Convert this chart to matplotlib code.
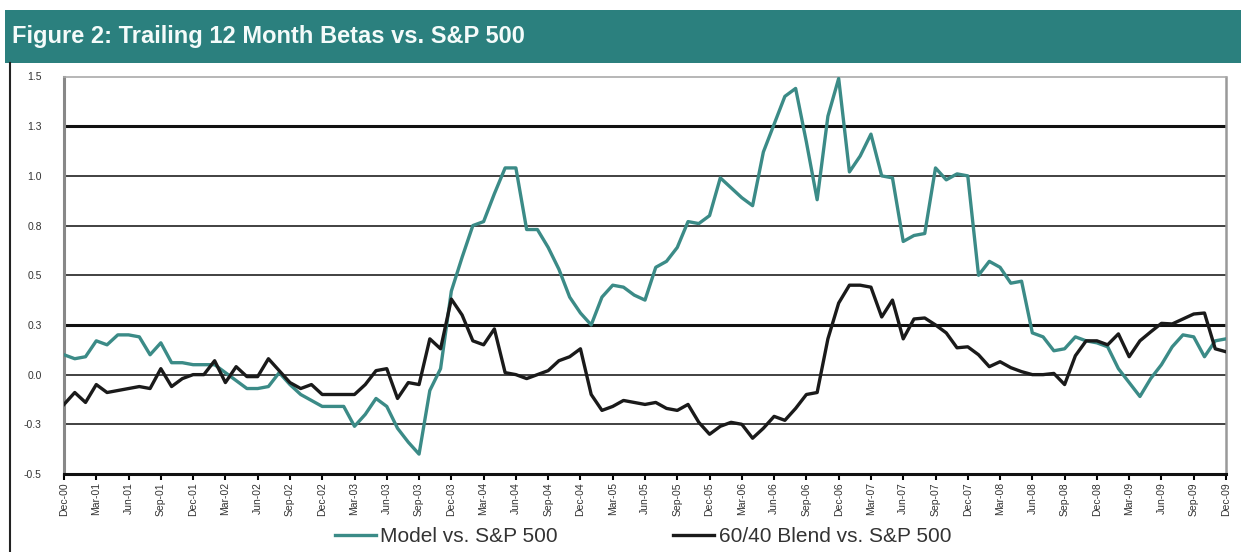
import matplotlib

matplotlib.use("Agg")

import matplotlib.pyplot as plt
import numpy as np
from matplotlib.lines import Line2D
from matplotlib.patches import Rectangle

plt.rcParams["font.family"] = ["Liberation Sans", "DejaVu Sans"]

TITLE = "Figure 2: Trailing 12 Month Betas vs. S&P 500"

# monthly trailing betas, Dec-00 .. Dec-09
model_beta = [
    0.10, 0.08, 0.09, 0.17, 0.15, 0.20, 0.20, 0.19, 0.10, 0.16,
    0.06, 0.06, 0.05, 0.05, 0.05, 0.01, -0.03, -0.07, -0.07, -0.06,
    0.01, -0.05, -0.10, -0.13, -0.16, -0.16, -0.16, -0.26, -0.20, -0.12,
    -0.16, -0.27, -0.34, -0.40, -0.08, 0.03, 0.42, 0.59, 0.75, 0.77,
    0.91, 1.04, 1.04, 0.73, 0.73, 0.64, 0.53, 0.39, 0.31, 0.25,
    0.39, 0.45, 0.44, 0.40, 0.375, 0.54, 0.57, 0.64, 0.77, 0.76,
    0.80, 0.99, 0.94, 0.89, 0.85, 1.12, 1.26, 1.40, 1.44, 1.17,
    0.88, 1.30, 1.49, 1.02, 1.10, 1.21, 1.00, 0.99, 0.67, 0.70,
    0.71, 1.04, 0.98, 1.01, 1.00, 0.50, 0.57, 0.54, 0.46, 0.47,
    0.21, 0.19, 0.12, 0.13, 0.19, 0.17, 0.16, 0.14, 0.03, -0.04,
    -0.11, -0.02, 0.05, 0.14, 0.20, 0.19, 0.09, 0.17, 0.18,
]
blend_beta = [
    -0.15, -0.09, -0.14, -0.05, -0.09, -0.08, -0.07, -0.06, -0.07, 0.03,
    -0.06, -0.02, 0.00, 0.00, 0.07, -0.04, 0.04, -0.01, -0.01, 0.08,
    0.02, -0.04, -0.07, -0.05, -0.10, -0.10, -0.10, -0.10, -0.05, 0.02,
    0.03, -0.12, -0.04, -0.05, 0.18, 0.13, 0.38, 0.30, 0.17, 0.15,
    0.23, 0.01, 0.00, -0.02, 0.00, 0.02, 0.07, 0.09, 0.13, -0.10,
    -0.18, -0.16, -0.13, -0.14, -0.15, -0.14, -0.17, -0.18, -0.15, -0.24,
    -0.30, -0.26, -0.24, -0.25, -0.32, -0.27, -0.21, -0.23, -0.17, -0.10,
    -0.09, 0.18, 0.36, 0.45, 0.45, 0.44, 0.29, 0.375, 0.18, 0.28,
    0.285, 0.25, 0.21, 0.135, 0.14, 0.10, 0.04, 0.065, 0.035, 0.015,
    0.00, 0.00, 0.006, -0.05, 0.095, 0.17, 0.17, 0.15, 0.205, 0.09,
    0.17, 0.215, 0.258, 0.255, 0.28, 0.305, 0.31, 0.13, 0.115,
]
series_names = ["Model vs. S&P 500", "60/40 Blend vs. S&P 500"]

quarter_labels = [
    "Dec-00", "Mar-01", "Jun-01", "Sep-01", "Dec-01", "Mar-02", "Jun-02",
    "Sep-02", "Dec-02", "Mar-03", "Jun-03", "Sep-03", "Dec-03", "Mar-04",
    "Jun-04", "Sep-04", "Dec-04", "Mar-05", "Jun-05", "Sep-05", "Dec-05",
    "Mar-06", "Jun-06", "Sep-06", "Dec-06", "Mar-07", "Jun-07", "Sep-07",
    "Dec-07", "Mar-08", "Jun-08", "Sep-08", "Dec-08", "Mar-09", "Jun-09",
    "Sep-09", "Dec-09",
]
y_ticks = [-0.5, -0.25, 0.0, 0.25, 0.5, 0.75, 1.0, 1.25, 1.5]
y_tick_labels = ["-0.5", "-0.3", "0.0", "0.3", "0.5", "0.8", "1.0", "1.3", "1.5"]
heavy_levels = [0.25, 1.25]

TEAL = "#2b807e"
LINE_TEAL = "#3b8b87"
W, H = 1241, 552

fig = plt.figure(figsize=(W / 100, H / 100), dpi=100)

# title banner
fig.patches.append(
    Rectangle((5 / W, 1 - 63 / H), 1, 53 / H, transform=fig.transFigure,
              facecolor=TEAL, edgecolor="none")
)
fig.text(12 / W, 1 - 36 / H, TITLE, color="#f4fbfa", fontsize=17,
         fontweight="bold", va="center", ha="left")
fig.lines.append(
    Line2D([10 / W, 10 / W], [0, 1 - 63 / H], transform=fig.transFigure,
           color="#222222", linewidth=1.5)
)

ax = fig.add_axes([64 / W, 1 - 474 / H, (1226 - 64) / W, (474 - 76.5) / H])

months = np.arange(len(model_beta))
for level in y_ticks[1:-1]:
    if level in heavy_levels:
        ax.axhline(level, color="#111111", linewidth=2.2, zorder=1)
    else:
        ax.axhline(level, color="#333333", linewidth=1.3, zorder=1)

ax.plot(months, model_beta, color=LINE_TEAL, linewidth=2.4,
        label=series_names[0], zorder=3)
ax.plot(months, blend_beta, color="#1a1a1a", linewidth=2.4,
        label=series_names[1], zorder=3)

ax.set_xlim(0, len(model_beta) - 1)
ax.set_ylim(y_ticks[0], y_ticks[-1])

ax.set_xticks(months[::3])
ax.set_xticklabels(quarter_labels, rotation=90, fontsize=7.5, color="#333333")
ax.set_yticks(y_ticks)
ax.set_yticklabels(y_tick_labels, fontsize=7.5, color="#333333")
ax.tick_params(axis="x", direction="out", length=4, width=1.5, color="black", pad=2)
ax.tick_params(axis="y", length=0, pad=16)

ax.spines["left"].set_color("#888888")
ax.spines["left"].set_linewidth(2.2)
ax.spines["right"].set_color("#999999")
ax.spines["right"].set_linewidth(1.8)
ax.spines["top"].set_color("#aaaaaa")
ax.spines["top"].set_linewidth(1.2)
ax.spines["bottom"].set_color("#111111")
ax.spines["bottom"].set_linewidth(2.2)

fig.legend(
    loc="center",
    bbox_to_anchor=(0.518, 1 - 537 / H),
    ncol=2,
    frameon=False,
    fontsize=15,
    handlelength=2.0,
    handletextpad=0.2,
    columnspacing=5.5,
    labelcolor="#333333",
)

fig.savefig("out.png", dpi=100)
